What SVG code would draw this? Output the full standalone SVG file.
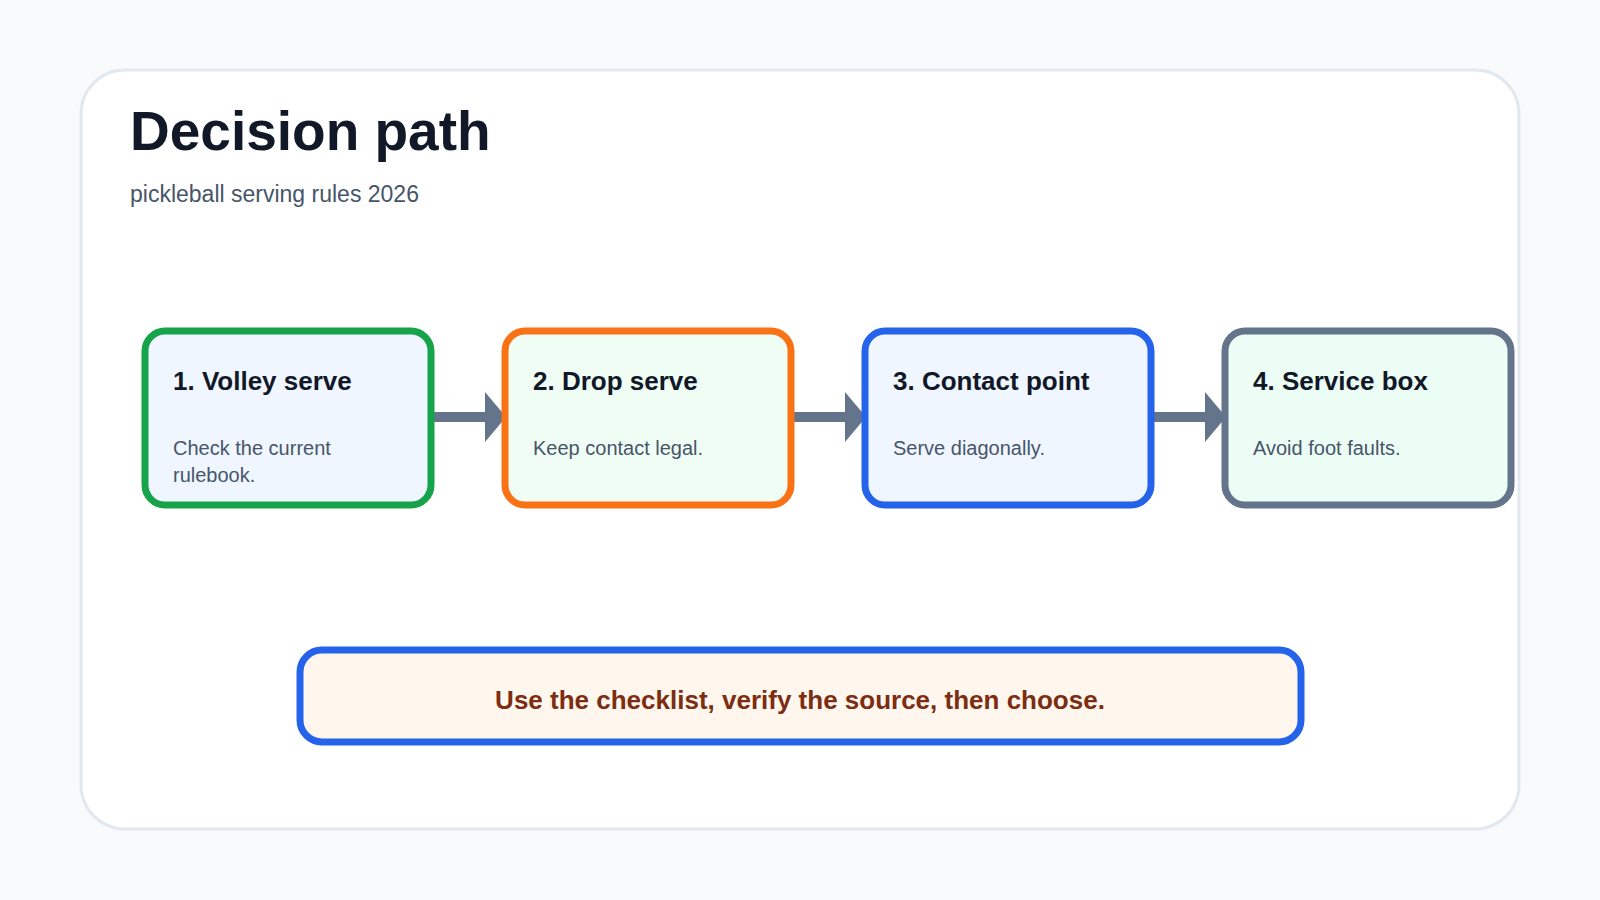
<svg xmlns="http://www.w3.org/2000/svg" width="1600" height="900" viewBox="0 0 1600 900">
<style>
.t{font-family:"Liberation Sans",Arial,sans-serif;font-weight:bold;font-size:26px;fill:#111827}
.b{font-family:"Liberation Sans",Arial,sans-serif;font-size:20px;fill:#475569}
.n{stroke-width:7}
.c{stroke:#64748b;stroke-width:10;fill:none}
.h{fill:#64748b}
</style>
<rect width="1600" height="900" fill="#f8fafc"/>
<rect x="81" y="70" width="1438" height="759" rx="44" fill="#ffffff" stroke="#e2e8f0" stroke-width="3"/>
<text x="130" y="150" font-family="Liberation Sans,Arial,sans-serif" font-weight="bold" font-size="55" fill="#111827">Decision path</text>
<text x="130" y="202" font-family="Liberation Sans,Arial,sans-serif" font-size="23" fill="#475569">pickleball serving rules 2026</text>
<g id="connectors">
<line class="c" x1="432" y1="417" x2="488" y2="417"/><polygon class="h" points="485,392 506,417 485,442"/>
<line class="c" x1="792" y1="417" x2="848" y2="417"/><polygon class="h" points="845,392 866,417 845,442"/>
<line class="c" x1="1152" y1="417" x2="1208" y2="417"/><polygon class="h" points="1205,392 1226,417 1205,442"/>
</g>
<g id="n1"><rect class="n" x="145" y="331" width="286" height="174" rx="20" fill="#eff6ff" stroke="#16a34a"/>
<text class="t" x="173" y="390">1. Volley serve</text><text class="b" x="173" y="455">Check the current</text><text class="b" x="173" y="482">rulebook.</text></g>
<g id="n2"><rect class="n" x="505" y="331" width="286" height="174" rx="20" fill="#f0fdf4" stroke="#f97316"/>
<text class="t" x="533" y="390">2. Drop serve</text><text class="b" x="533" y="455">Keep contact legal.</text></g>
<g id="n3"><rect class="n" x="865" y="331" width="286" height="174" rx="20" fill="#eff6ff" stroke="#2563eb"/>
<text class="t" x="893" y="390">3. Contact point</text><text class="b" x="893" y="455">Serve diagonally.</text></g>
<g id="n4"><rect class="n" x="1225" y="331" width="286" height="174" rx="20" fill="#ecfdf5" stroke="#64748b"/>
<text class="t" x="1253" y="390">4. Service box</text><text class="b" x="1253" y="455">Avoid foot faults.</text></g>
<g id="note"><rect x="300" y="650" width="1001" height="92" rx="22" fill="#fff7ed" stroke="#2563eb" stroke-width="7"/>
<text x="800" y="709" text-anchor="middle" font-family="Liberation Sans,Arial,sans-serif" font-weight="bold" font-size="26" fill="#7c2d12">Use the checklist, verify the source, then choose.</text></g>
</svg>
